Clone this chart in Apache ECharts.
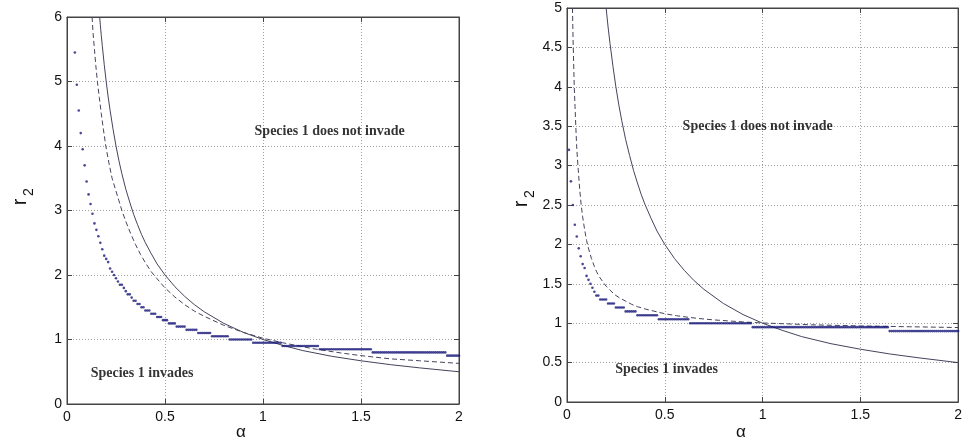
<!DOCTYPE html>
<html>
<head>
<meta charset="utf-8">
<script src="https://cdn.jsdelivr.net/npm/echarts@6/dist/echarts.min.js"></script>
<style>html,body{margin:0;padding:0;background:#fff}#c{width:965px;height:445px}</style>
</head>
<body>
<div id="c"></div>
<script>
// ---------- LEFT PANEL DATA ----------
const leftSolid = [[0.167,5.99],[0.17,5.88],[0.175,5.71],[0.18,5.56],[0.19,5.26],[0.2,5.0],[0.21,4.76],[0.22,4.55],[0.235,4.26],[0.25,4.0],[0.265,3.77],[0.28,3.57],[0.3,3.33],[0.32,3.13],[0.34,2.94],[0.36,2.78],[0.38,2.63],[0.4,2.5],[0.43,2.33],[0.46,2.17],[0.5,2.0],[0.55,1.82],[0.6,1.67],[0.65,1.54],[0.7,1.43],[0.8,1.25],[0.9,1.11],[1.0,1.0],[1.1,0.91],[1.2,0.83],[1.35,0.74],[1.5,0.67],[1.65,0.61],[1.8,0.56],[2.0,0.5]];
const leftDashed = [[0.128,6.0],[0.133,5.75],[0.14,5.5],[0.147,5.25],[0.155,5.0],[0.165,4.75],[0.175,4.5],[0.186,4.25],[0.198,4.0],[0.213,3.75],[0.23,3.5],[0.25,3.3],[0.265,3.15],[0.28,3.0],[0.3,2.83],[0.325,2.64],[0.35,2.47],[0.375,2.32],[0.4,2.19],[0.43,2.05],[0.46,1.94],[0.5,1.8],[0.55,1.66],[0.6,1.54],[0.65,1.44],[0.7,1.36],[0.8,1.22],[0.9,1.11],[1.0,1.02],[1.1,0.95],[1.25,0.86],[1.4,0.79],[1.5,0.75],[1.65,0.70],[1.8,0.67],[2.0,0.63]];
const leftDotAlpha = [
0.04,0.05,0.06,0.07,0.08,0.09,0.10,0.11,0.12,0.13,
0.14,0.15,0.16,0.17,0.18,0.19,0.20,0.21,0.22,0.23,
0.24,0.25,0.26,0.27,0.28,0.29,0.30,0.31,0.32,0.33,
0.34,0.35,0.36,0.37,0.38,0.39,0.40,0.41,0.42,0.43,
0.44,0.45,0.46,0.47,0.48,0.49,0.50,0.51,0.52,0.53,
0.54,0.55,0.56,0.57,0.58,0.59,0.60,0.61,0.62,0.63,
0.64,0.65,0.66,0.67,0.68,0.69,0.70,0.71,0.72,0.73,
0.74,0.75,0.76,0.77,0.78,0.79,0.80,0.81,0.82,0.83,
0.84,0.85,0.86,0.87,0.88,0.89,0.90,0.91,0.92,0.93,
0.94,0.95,0.96,0.97,0.98,0.99,1.00,1.01,1.02,1.03,
1.04,1.05,1.06,1.07,1.08,1.09,1.10,1.11,1.12,1.13,
1.14,1.15,1.16,1.17,1.18,1.19,1.20,1.21,1.22,1.23,
1.24,1.25,1.26,1.27,1.28,1.29,1.30,1.31,1.32,1.33,
1.34,1.35,1.36,1.37,1.38,1.39,1.40,1.41,1.42,1.43,
1.44,1.45,1.46,1.47,1.48,1.49,1.50,1.51,1.52,1.53,
1.54,1.55,1.56,1.57,1.58,1.59,1.60,1.61,1.62,1.63,
1.64,1.65,1.66,1.67,1.68,1.69,1.70,1.71,1.72,1.73,
1.74,1.75,1.76,1.77,1.78,1.79,1.80,1.81,1.82,1.83,
1.84,1.85,1.86,1.87,1.88,1.89,1.90,1.91,1.92,1.93,
1.94,1.95,1.96,1.97,1.98,1.99,2.00];
const leftDotR = [
5.45,4.95,4.55,4.20,3.95,3.70,3.45,3.25,3.10,2.95,
2.80,2.70,2.60,2.50,2.40,2.30,2.25,2.20,2.10,2.05,
2.00,1.95,1.90,1.85,1.85,1.80,1.75,1.70,1.70,1.65,
1.60,1.60,1.55,1.55,1.50,1.50,1.45,1.45,1.45,1.40,
1.40,1.40,1.35,1.35,1.35,1.30,1.30,1.30,1.25,1.25,
1.25,1.25,1.20,1.20,1.20,1.20,1.20,1.15,1.15,1.15,
1.15,1.15,1.15,1.10,1.10,1.10,1.10,1.10,1.10,1.10,
1.05,1.05,1.05,1.05,1.05,1.05,1.05,1.05,1.05,1.00,
1.00,1.00,1.00,1.00,1.00,1.00,1.00,1.00,1.00,1.00,
1.00,0.95,0.95,0.95,0.95,0.95,0.95,0.95,0.95,0.95,
0.95,0.95,0.95,0.95,0.95,0.95,0.90,0.90,0.90,0.90,
0.90,0.90,0.90,0.90,0.90,0.90,0.90,0.90,0.90,0.90,
0.90,0.90,0.90,0.90,0.90,0.85,0.85,0.85,0.85,0.85,
0.85,0.85,0.85,0.85,0.85,0.85,0.85,0.85,0.85,0.85,
0.85,0.85,0.85,0.85,0.85,0.85,0.85,0.85,0.85,0.85,
0.85,0.85,0.80,0.80,0.80,0.80,0.80,0.80,0.80,0.80,
0.80,0.80,0.80,0.80,0.80,0.80,0.80,0.80,0.80,0.80,
0.80,0.80,0.80,0.80,0.80,0.80,0.80,0.80,0.80,0.80,
0.80,0.80,0.80,0.80,0.80,0.80,0.80,0.80,0.80,0.80,
0.75,0.75,0.75,0.75,0.75,0.75,0.75];
const leftNotes = [
  {name: 'Species 1 does not invade', value: [1.34, 4.22]},
  {name: 'Species 1 invades', value: [0.383, 0.48]}
];

// ---------- RIGHT PANEL DATA ----------
const rightSolid = [[0.2,5.0],[0.21,4.76],[0.22,4.55],[0.235,4.26],[0.25,4.0],[0.265,3.77],[0.28,3.57],[0.3,3.33],[0.32,3.13],[0.34,2.94],[0.36,2.78],[0.38,2.63],[0.4,2.5],[0.43,2.33],[0.46,2.17],[0.5,2.0],[0.55,1.82],[0.6,1.67],[0.65,1.54],[0.7,1.43],[0.8,1.25],[0.9,1.11],[1.0,1.0],[1.1,0.91],[1.2,0.83],[1.35,0.74],[1.5,0.67],[1.65,0.61],[1.8,0.56],[2.0,0.5]];
const rightDashed = [[0.028,5.0],[0.0295,4.8],[0.031,4.6],[0.034,4.3],[0.037,4.0],[0.041,3.75],[0.045,3.5],[0.049,3.27],[0.053,3.1],[0.059,2.9],[0.065,2.7],[0.072,2.51],[0.08,2.35],[0.09,2.19],[0.1,2.05],[0.112,1.93],[0.125,1.82],[0.14,1.72],[0.15,1.66],[0.165,1.59],[0.185,1.52],[0.2,1.47],[0.22,1.42],[0.245,1.36],[0.27,1.32],[0.3,1.28],[0.33,1.24],[0.36,1.21],[0.4,1.18],[0.45,1.15],[0.5,1.12],[0.56,1.095],[0.62,1.075],[0.68,1.058],[0.75,1.042],[0.82,1.03],[0.9,1.016],[1.0,1.003],[1.25,0.98],[1.5,0.965],[1.75,0.955],[2.0,0.945]];
const rightDotAlpha = [
0.01,0.02,0.03,0.04,0.05,0.06,0.07,0.08,0.09,0.10,
0.11,0.12,0.13,0.14,0.15,0.16,0.17,0.18,0.19,0.20,
0.21,0.22,0.23,0.24,0.25,0.26,0.27,0.28,0.29,0.30,
0.31,0.32,0.33,0.34,0.35,0.36,0.37,0.38,0.39,0.40,
0.41,0.42,0.43,0.44,0.45,0.46,0.47,0.48,0.49,0.50,
0.51,0.52,0.53,0.54,0.55,0.56,0.57,0.58,0.59,0.60,
0.61,0.62,0.63,0.64,0.65,0.66,0.67,0.68,0.69,0.70,
0.71,0.72,0.73,0.74,0.75,0.76,0.77,0.78,0.79,0.80,
0.81,0.82,0.83,0.84,0.85,0.86,0.87,0.88,0.89,0.90,
0.91,0.92,0.93,0.94,0.95,0.96,0.97,0.98,0.99,1.00,
1.01,1.02,1.03,1.04,1.05,1.06,1.07,1.08,1.09,1.10,
1.11,1.12,1.13,1.14,1.15,1.16,1.17,1.18,1.19,1.20,
1.21,1.22,1.23,1.24,1.25,1.26,1.27,1.28,1.29,1.30,
1.31,1.32,1.33,1.34,1.35,1.36,1.37,1.38,1.39,1.40,
1.41,1.42,1.43,1.44,1.45,1.46,1.47,1.48,1.49,1.50,
1.51,1.52,1.53,1.54,1.55,1.56,1.57,1.58,1.59,1.60,
1.61,1.62,1.63,1.64,1.65,1.66,1.67,1.68,1.69,1.70,
1.71,1.72,1.73,1.74,1.75,1.76,1.77,1.78,1.79,1.80,
1.81,1.82,1.83,1.84,1.85,1.86,1.87,1.88,1.89,1.90,
1.91,1.92,1.93,1.94,1.95,1.96,1.97,1.98,1.99,2.00];
const rightDotR = [
3.20,2.80,2.50,2.25,2.10,1.95,1.85,1.75,1.70,1.60,
1.55,1.50,1.45,1.40,1.35,1.35,1.30,1.30,1.30,1.30,
1.25,1.25,1.25,1.25,1.20,1.20,1.20,1.20,1.20,1.15,
1.15,1.15,1.15,1.15,1.15,1.10,1.10,1.10,1.10,1.10,
1.10,1.10,1.10,1.10,1.10,1.10,1.05,1.05,1.05,1.05,
1.05,1.05,1.05,1.05,1.05,1.05,1.05,1.05,1.05,1.05,
1.05,1.05,1.00,1.00,1.00,1.00,1.00,1.00,1.00,1.00,
1.00,1.00,1.00,1.00,1.00,1.00,1.00,1.00,1.00,1.00,
1.00,1.00,1.00,1.00,1.00,1.00,1.00,1.00,1.00,1.00,
1.00,1.00,1.00,1.00,0.95,0.95,0.95,0.95,0.95,0.95,
0.95,0.95,0.95,0.95,0.95,0.95,0.95,0.95,0.95,0.95,
0.95,0.95,0.95,0.95,0.95,0.95,0.95,0.95,0.95,0.95,
0.95,0.95,0.95,0.95,0.95,0.95,0.95,0.95,0.95,0.95,
0.95,0.95,0.95,0.95,0.95,0.95,0.95,0.95,0.95,0.95,
0.95,0.95,0.95,0.95,0.95,0.95,0.95,0.95,0.95,0.95,
0.95,0.95,0.95,0.95,0.95,0.95,0.95,0.95,0.95,0.95,
0.95,0.95,0.95,0.95,0.90,0.90,0.90,0.90,0.90,0.90,
0.90,0.90,0.90,0.90,0.90,0.90,0.90,0.90,0.90,0.90,
0.90,0.90,0.90,0.90,0.90,0.90,0.90,0.90,0.90,0.90,
0.90,0.90,0.90,0.90,0.90,0.90,0.90,0.90,0.90,0.90];
const rightNotes = [
  {name: 'Species 1 does not invade', value: [0.975, 3.50]},
  {name: 'Species 1 invades', value: [0.509, 0.42]}
];

const xTicks = {min: 0, max: 2, interval: 0.5};
const leftY = {min: 0, max: 6, interval: 1};
const rightY = {min: 0, max: 5, interval: 0.5};

// ---------- STYLE ----------
const curveColor = '#44445c';
const dotColor = '#1a1a7a';
const gridColor = '#a0a0a0';
const frameColor = '#444';
const labelFont = {fontFamily: 'Liberation Sans, Arial, sans-serif', fontSize: 14, color: '#111'};

function zip(a, b) { return a.map((v, i) => [v, b[i]]); }

function axisBase(rng, pos) {
  return {type: 'value', min: rng.min, max: rng.max, interval: rng.interval, position: pos,
    axisLine: {show: true, onZero: false, lineStyle: {color: frameColor, width: 1}},
    axisTick: {show: true, inside: true, length: 5, lineStyle: {color: frameColor}}};
}
function xAxes(gi, rng) {
  return [
    Object.assign(axisBase(rng, 'bottom'), {gridIndex: gi,
      axisLabel: Object.assign({margin: 6}, labelFont),
      splitLine: {show: true, lineStyle: {color: gridColor, type: [1, 2], width: 1}}}),
    Object.assign(axisBase(rng, 'top'), {gridIndex: gi,
      axisLabel: {show: false}, splitLine: {show: false}})
  ];
}
function yAxes(gi, rng) {
  return [
    Object.assign(axisBase(rng, 'left'), {gridIndex: gi,
      axisLabel: Object.assign({margin: 5}, labelFont),
      splitLine: {show: true, lineStyle: {color: gridColor, type: [1, 2], width: 1}}}),
    Object.assign(axisBase(rng, 'right'), {gridIndex: gi,
      axisLabel: {show: false}, splitLine: {show: false}})
  ];
}

function panelSeries(xi, yi, solid, dashed, dots, notes) {
  return [
    {type: 'line', xAxisIndex: xi, yAxisIndex: yi, data: solid, showSymbol: false, smooth: false,
     lineStyle: {color: curveColor, width: 1}, silent: true, z: 3},
    {type: 'line', xAxisIndex: xi, yAxisIndex: yi, data: dashed, showSymbol: false, smooth: false,
     lineStyle: {color: curveColor, width: 1, type: [5, 3]}, silent: true, z: 3},
    {type: 'scatter', xAxisIndex: xi, yAxisIndex: yi, data: dots, symbol: 'circle', symbolSize: 2.6,
     itemStyle: {color: dotColor}, silent: true, z: 4},
    {type: 'scatter', xAxisIndex: xi, yAxisIndex: yi, data: notes, symbolSize: 0, silent: true, z: 5,
     label: {show: true, position: [0, 0], align: 'center', verticalAlign: 'middle',
       formatter: p => p.name, fontFamily: 'Liberation Serif, Times New Roman, serif',
       fontWeight: 'bold', fontSize: 14, color: '#000'}}
  ];
}

const chart = echarts.init(document.getElementById('c'), null, {renderer: 'canvas'});
const axisTitle = '17px Liberation Sans, Arial, sans-serif';
const option = {
  animation: false,
  backgroundColor: '#fff',
  grid: [
    {left: 67, top: 17, width: 392, height: 387, show: true, borderColor: frameColor, borderWidth: 1, backgroundColor: 'transparent'},
    {left: 567, top: 8, width: 397, height: 394, show: true, borderColor: frameColor, borderWidth: 1, backgroundColor: 'transparent'}
  ],
  xAxis: [...xAxes(0, xTicks), ...xAxes(1, xTicks)],
  yAxis: [...yAxes(0, leftY), ...yAxes(1, rightY)],
  series: [
    ...panelSeries(0, 0, leftSolid, leftDashed, zip(leftDotAlpha, leftDotR), leftNotes),
    ...panelSeries(2, 2, rightSolid, rightDashed, zip(rightDotAlpha, rightDotR), rightNotes)
  ],
  graphic: [
    {type: 'text', x: 241, y: 432, style: {text: 'α', font: axisTitle, fill: '#111', textAlign: 'center', textVerticalAlign: 'middle'}},
    {type: 'text', x: 741, y: 432, style: {text: 'α', font: axisTitle, fill: '#111', textAlign: 'center', textVerticalAlign: 'middle'}},
    {type: 'text', x: 20, y: 202, rotation: Math.PI / 2, style: {text: 'r', font: '20px Liberation Sans, Arial, sans-serif', fill: '#111', textAlign: 'center', textVerticalAlign: 'middle'}},
    {type: 'text', x: 29, y: 192, rotation: Math.PI / 2, style: {text: '2', font: '14px Liberation Sans, Arial, sans-serif', fill: '#111', textAlign: 'center', textVerticalAlign: 'middle'}},
    {type: 'text', x: 521, y: 204, rotation: Math.PI / 2, style: {text: 'r', font: '20px Liberation Sans, Arial, sans-serif', fill: '#111', textAlign: 'center', textVerticalAlign: 'middle'}},
    {type: 'text', x: 530, y: 194, rotation: Math.PI / 2, style: {text: '2', font: '14px Liberation Sans, Arial, sans-serif', fill: '#111', textAlign: 'center', textVerticalAlign: 'middle'}}
  ]
};
chart.setOption(option);
</script>
</body>
</html>
